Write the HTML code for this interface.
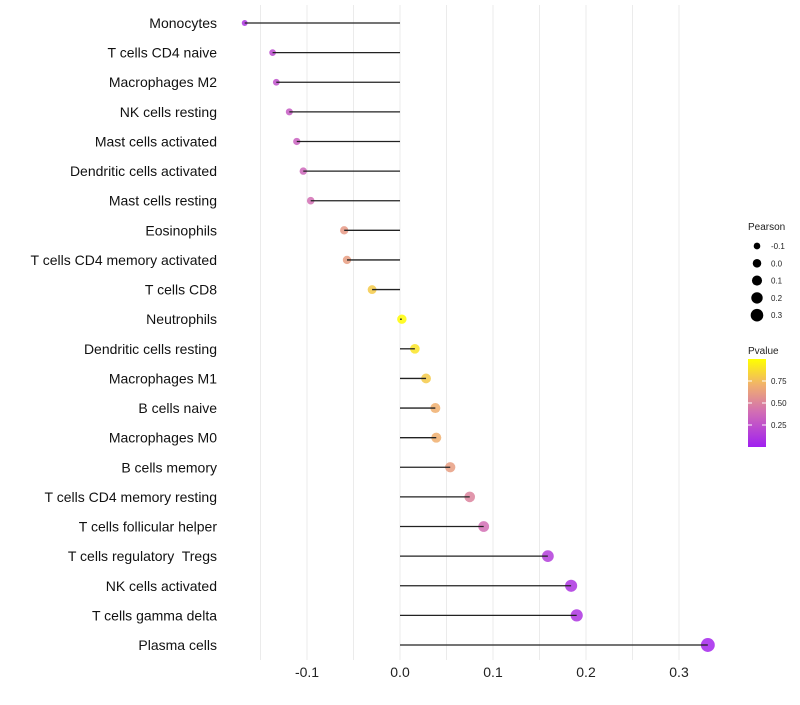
<!DOCTYPE html>
<html><head><meta charset="utf-8"><style>
body{margin:0;background:#fff;font-family:"Liberation Sans",sans-serif}
text{white-space:pre}
</style></head><body>
<svg id="chart" width="800" height="700" xmlns="http://www.w3.org/2000/svg" font-family="Liberation Sans, sans-serif" xml:space="preserve"></svg>
<script>
const categories=["Monocytes","T cells CD4 naive","Macrophages M2","NK cells resting","Mast cells activated","Dendritic cells activated","Mast cells resting","Eosinophils","T cells CD4 memory activated","T cells CD8","Neutrophils","Dendritic cells resting","Macrophages M1","B cells naive","Macrophages M0","B cells memory","T cells CD4 memory resting","T cells follicular helper","T cells regulatory  Tregs","NK cells activated","T cells gamma delta","Plasma cells"];
const pearson=[-0.167,-0.137,-0.133,-0.119,-0.111,-0.104,-0.096,-0.060,-0.057,-0.030,0.002,0.016,0.028,0.038,0.039,0.054,0.075,0.090,0.159,0.184,0.190,0.331];
const pvalue=[0.10,0.22,0.25,0.30,0.33,0.36,0.40,0.60,0.62,0.80,0.99,0.90,0.80,0.70,0.70,0.62,0.50,0.40,0.15,0.10,0.10,0.03];
const xTicks=[-0.1,0.0,0.1,0.2,0.3];
const xTickLabels=["-0.1","0.0","0.1","0.2","0.3"];
const sizeLegend=[-0.1,0.0,0.1,0.2,0.3];
const sizeLegendLabels=["-0.1","0.0","0.1","0.2","0.3"];
const colorTicks=[0.25,0.5,0.75];

const NS="http://www.w3.org/2000/svg";
const svg=document.getElementById('chart');
function x(v){return 400+v*930;}
function y(i){return 23+i*(622/21);}
function r(v){return Math.sqrt(Math.max(3,22+80*v));}
const stops=[[0,[160,32,240]],[0.4,[210,110,180]],[0.7,[240,175,110]],[1,[255,255,0]]];
function col(p){for(let k=1;k<stops.length;k++){if(p<=stops[k][0]){const a=stops[k-1],b=stops[k],t=(p-a[0])/(b[0]-a[0]);return 'rgb('+a[1].map((c,j)=>Math.round(c+(b[1][j]-c)*t)).join(',')+')';}}return 'rgb(255,255,0)';}
function mk(tag,attrs,parent){const e=document.createElementNS(NS,tag);for(const k in attrs)e.setAttribute(k,attrs[k]);(parent||svg).appendChild(e);return e;}

const grid=mk('g',{});


[-0.15,-0.1,-0.05,0,0.05,0.1,0.15,0.2,0.25,0.3].forEach(v=>{mk('line',{x1:x(v),x2:x(v),y1:5,y2:660,stroke:'#ebebeb','stroke-width':1},grid);});

xTicks.forEach((v,i)=>{const t=mk('text',{x:x(v),y:677,'text-anchor':'middle','font-size':14,fill:'#222'});t.textContent=xTickLabels[i];

});

categories.forEach((c,i)=>{
 const t=mk('text',{x:217,y:y(i)+5,'text-anchor':'end','font-size':14,fill:'#111'});t.textContent=c;
 
 
 const p=mk('circle',{cx:x(pearson[i]),cy:y(i),r:r(pearson[i]),fill:col(pvalue[i]),'fill-opacity':0.85});
 
 
 const l=mk('line',{x1:x(0),x2:x(pearson[i]),y1:y(i),y2:y(i),stroke:'#222','stroke-width':1.3});
 
 
});

const lg=mk('g',{});


let tt=mk('text',{x:748,y:230,'font-size':10,fill:'#222'},lg);tt.textContent='Pearson';
sizeLegend.forEach((v,i)=>{const cy=246+i*17.3;mk('circle',{cx:757,cy:cy,r:Math.sqrt(18.2+72*v),fill:'#000'},lg);const t=mk('text',{x:771,y:cy+3,'font-size':8,fill:'#222'},lg);t.textContent=sizeLegendLabels[i];});
tt=mk('text',{x:748,y:354,'font-size':10,fill:'#222'},lg);tt.textContent='Pvalue';
const defs=mk('defs',{});const gr=mk('linearGradient',{id:'pg',x1:0,y1:1,x2:0,y2:0},defs);
stops.forEach(s=>mk('stop',{offset:s[0],'stop-color':'rgb('+s[1].join(',')+')'},gr));
mk('rect',{x:748,y:359,width:18,height:88,fill:'url(#pg)'},lg);
colorTicks.forEach(v=>{const cy=447-v*88;mk('line',{x1:748,x2:752,y1:cy,y2:cy,stroke:'#fff'},lg);mk('line',{x1:762,x2:766,y1:cy,y2:cy,stroke:'#fff'},lg);const t=mk('text',{x:771,y:cy+3,'font-size':8,fill:'#222'},lg);t.textContent=v.toFixed(2);});
</script>
</body></html>
